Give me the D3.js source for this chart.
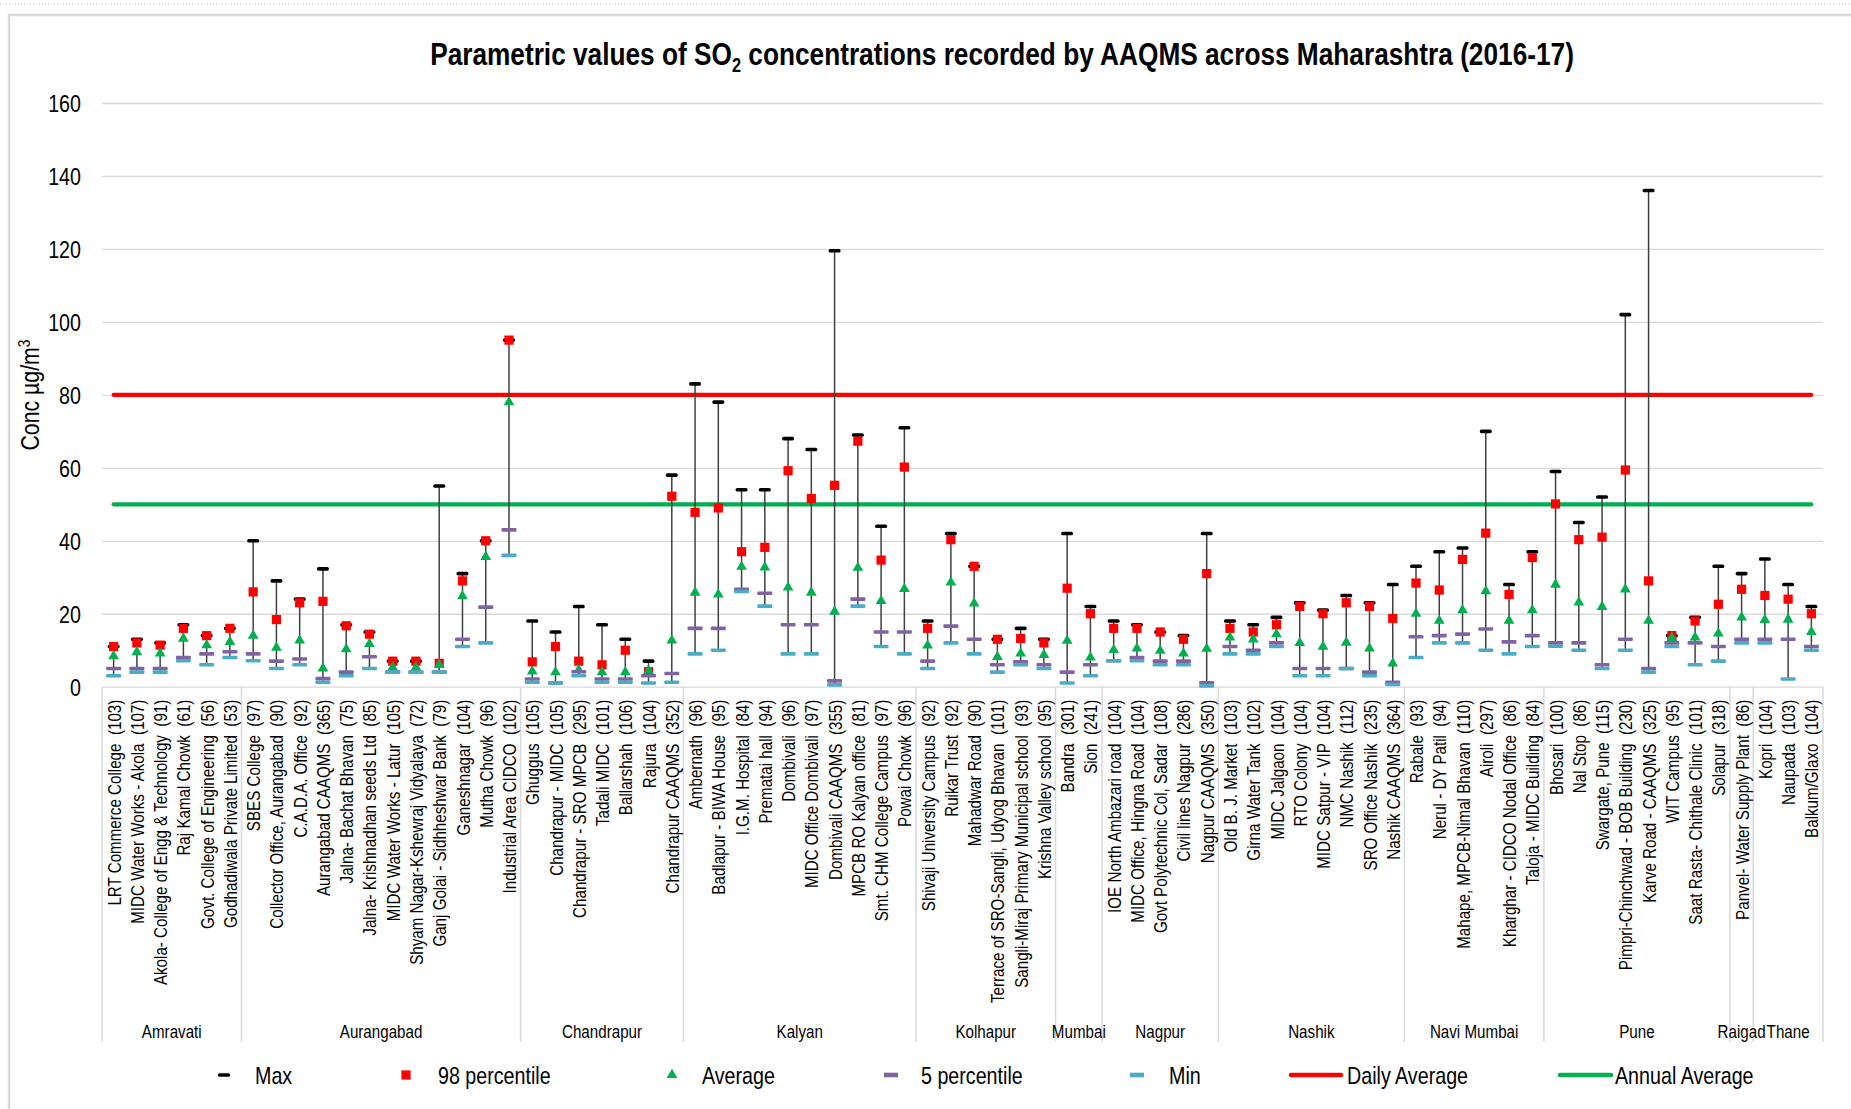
<!DOCTYPE html>
<html>
<head>
<meta charset="utf-8">
<script src="https://cdn.jsdelivr.net/npm/d3@7"></script>
<style>
body { margin: 0; background: #fff; }
text { white-space: pre; }
</style>
</head>
<body>
<div id="chart-area"></div>
<script>

// station names and number of samples, in plotting order
var stationNames = [
    "LRT Commerce College", "MIDC Water Works - Akola", "Akola- College of Engg & Technology",
    "Raj Kamal Chowk", "Govt. College of Engineering", "Godhadiwala Private Limited",
    "SBES College", "Collector Office, Aurangabad", "C.A.D.A. Office", "Aurangabad CAAQMS",
    "Jalna- Bachat Bhavan", "Jalna- Krishnadhan seeds Ltd", "MIDC Water Works - Latur",
    "Shyam Nagar-Kshewraj Vidyalaya", "Ganj Golai - Sidhheshwar Bank", "Ganeshnagar",
    "Mutha Chowk", "Industrial Area CIDCO",
    "Ghuggus", "Chandrapur - MIDC", "Chandrapur - SRO MPCB", "Tadali MIDC", "Ballarshah",
    "Rajura", "Chandrapur CAAQMS",
    "Ambernath", "Badlapur - BIWA House", "I.G.M. Hospital", "Prematai hall", "Dombivali",
    "MIDC Office Dombivali", "Dombivali CAAQMS", "MPCB RO Kalyan office",
    "Smt. CHM College Campus", "Powai Chowk",
    "Shivaji University Campus", "Ruikar Trust", "Mahadwar Road",
    "Terrace of SRO-Sangli, Udyog Bhavan", "Sangli-Miraj Primary Municipal school",
    "Krishna Valley school",
    "Bandra", "Sion",
    "IOE North Ambazari road", "MIDC Office, Hingna Road", "Govt Polytechnic Col, Sadar",
    "Civil lines Nagpur", "Nagpur CAAQMS",
    "Old B. J. Market", "Girna Water Tank", "MIDC Jalgaon", "RTO Colony", "MIDC Satpur - VIP",
    "NMC Nashik", "SRO Office Nashik", "Nashik CAAQMS",
    "Rabale", "Nerul - DY Patil", "Mahape, MPCB-Nimal Bhavan", "Airoli",
    "Kharghar - CIDCO Nodal Office", "Taloja - MIDC Building",
    "Bhosari", "Nal Stop", "Swargate, Pune", "Pimpri-Chinchwad - BOB Building",
    "Karve Road - CAAQMS", "WIT Campus", "Saat Rasta- Chithale Clinic", "Solapur",
    "Panvel- Water Supply Plant",
    "Kopri", "Naupada", "Balkum/Glaxo"
];
var sampleCounts = [103, 107, 91, 61, 56, 53,
    97, 90, 92, 365, 75, 85, 105, 72, 79, 104, 96, 102,
    105, 105, 295, 101, 106, 104, 352,
    96, 95, 84, 94, 96, 97, 355, 81, 97, 96,
    92, 92, 90, 101, 93, 95,
    301, 241,
    104, 104, 108, 286, 350,
    103, 102, 104, 104, 104, 112, 235, 364,
    93, 94, 110, 297, 86, 84,
    100, 86, 115, 230, 325, 95, 101, 318,
    86,
    104, 103, 104];

// regions and how many stations each one has
var regionNames = ["Amravati", "Aurangabad", "Chandrapur", "Kalyan", "Kolhapur", "Mumbai",
    "Nagpur", "Nashik", "Navi Mumbai", "Pune", "Raigad", "Thane"];
var regionSizes = [6, 12, 7, 10, 6, 2, 5, 8, 6, 8, 1, 3];

// SO2 values, µg/m3
var maxVals = [11, 13, 12, 17, 14, 16,
    40, 29, 24, 32.3, 17, 15, 7, 7, 55, 31, 40, 95,
    18, 15, 22, 17, 13, 7, 58,
    83, 78, 54, 54, 68, 65, 119.5, 69, 44, 71,
    18, 42, 33, 13, 16, 13,
    42, 22,
    18, 17, 15, 14, 42,
    18, 17, 19, 23, 21, 25, 23, 28,
    33, 37, 38, 70, 28, 37,
    59, 45, 52, 102, 136, 14, 19, 33,
    31,
    35, 28, 22];
var p98Vals = [11, 12, 11.4, 16, 14, 16,
    26, 18.4, 23, 23.4, 16.7, 14.4, 7, 7, 6.4, 29, 40, 95,
    6.8, 11, 7, 6, 10, 4.1, 52.2,
    47.8, 49, 37, 38.2, 59.2, 51.6, 55.2, 67.3, 34.7, 60.2,
    16, 40.3, 33, 13, 13.2, 12,
    27, 20,
    16, 16, 15, 13, 31,
    16, 15, 17, 22, 20, 23, 22, 18.7,
    28.4, 26.5, 34.9, 42.1, 25.3, 35.4,
    50.1, 40.3, 41, 59.4, 29, 14, 18, 22.6,
    26.7,
    25, 24, 20];
var avgVals = [8.4, 9.5, 9.1, 13.2, 11.4, 12.3,
    14, 10.7, 12.7, 5, 10.3, 11.7, 5.3, 5.3, 6, 24.8, 35.6, 78,
    4.2, 4, 4.6, 4, 4, 4.4, 12.7,
    25.8, 25.3, 32.9, 32.7, 27.2, 25.8, 20.6, 32.6, 23.5, 26.8,
    11.3, 28.6, 22.8, 8.2, 9.1, 8.7,
    12.6, 8,
    10.1, 10.5, 9.9, 9.1, 10.4,
    13.5, 13, 14.4, 12, 11, 12.1, 10.5, 6.4,
    20, 18.1, 21, 26.2, 18.1, 21,
    28, 23.1, 21.9, 26.7, 18.1, 13.4, 13.5, 14.6,
    19,
    18.3, 18.4, 15];
var p5Vals = [5, 5, 5, 8, 9, 9.6,
    9, 7, 7.6, 2.2, 4, 8.2, 4, 4, 4, 13, 21.8, 43,
    2.1, 1, 4.1, 2.1, 2.1, 3, 3.6,
    16, 16, 26.7, 25.6, 17, 17, 1.6, 24, 15, 15,
    7, 16.6, 13, 6, 6.8, 6,
    4, 6,
    7.1, 8, 7, 7, 1.1,
    11, 10, 12, 5, 5, 5, 4, 1.2,
    13.7, 14, 14.4, 15.8, 12.3, 14,
    12, 12, 6, 13, 5, 12, 12, 11,
    13,
    13, 13, 11];
var minVals = [3, 4, 4, 7.1, 6, 8,
    7.1, 5, 6, 1.2, 3, 5, 4, 4, 4, 11, 12, 36,
    1.2, 1, 3, 1.2, 1.2, 1, 1.2,
    9, 10, 26.1, 22.1, 9, 9, 0.5, 22.1, 11, 9,
    5, 12, 9, 4, 6, 5,
    1, 3,
    7.1, 7.1, 6, 6, 0.2,
    9, 9, 11, 3, 3, 5, 3, 0.6,
    8, 12, 12, 10, 9, 11,
    11.1, 10, 5, 10, 4, 11, 6, 7,
    12,
    12, 2.1, 10];

// standards
var dailyStandard = 80;
var annualStandard = 50;

var yTicks = [0, 20, 40, 60, 80, 100, 120, 140, 160];
var legendLabels = ["Max", "98 percentile", "Average", "5 percentile", "Min", "Daily Average", "Annual Average"];


// use the narrow face if it is there, otherwise squeeze the regular one
function hasFont(name) {
    var ctx = document.createElement("canvas").getContext("2d");
    ctx.font = "40px monospace";
    var a = ctx.measureText("abcdefghijklmnopWQ").width;
    ctx.font = "40px '" + name + "', monospace";
    var b = ctx.measureText("abcdefghijklmnopWQ").width;
    return a !== b;
}
var NARROW = hasFont("Liberation Sans Narrow");
var FONT = NARROW ? "'Liberation Sans Narrow'" : "'Liberation Sans', Arial, sans-serif";
var SX = NARROW ? 1 : 0.82;

function addText(sel, x, y, rot, size) {
    return sel.append("text")
        .attr("transform", "translate(" + x + "," + y + ")" + (rot ? " rotate(" + rot + ")" : "") + " scale(" + SX + ",1)")
        .style("font-family", FONT)
        .style("font-size", size + "px")
        .attr("fill", "#000");
}


SO2Chart = function(_parentElement) {
    this.parentElement = _parentElement;
    this.initVis();
}

SO2Chart.prototype.initVis = function() {
    var vis = this;

    vis.margin = { top: 103, right: 28, bottom: 422.3, left: 102 };
    vis.width = 1851 - vis.margin.left - vis.margin.right;
    vis.height = 1109 - vis.margin.top - vis.margin.bottom;

    vis.root = d3.select("#" + vis.parentElement).append("svg")
        .attr("width", 1851)
        .attr("height", 1109);

    vis.root.append("rect").attr("width", 1851).attr("height", 1109).attr("fill", "#fff");

    // dotted rule at the very top and the chart frame
    vis.root.append("line")
        .attr("x1", 0).attr("x2", 1851).attr("y1", 4).attr("y2", 4)
        .attr("stroke", "#c8c8c8").attr("stroke-dasharray", "1,2");
    vis.root.append("rect")
        .attr("x", 9).attr("y", 15).attr("width", 1900).attr("height", 1200)
        .attr("fill", "none").attr("stroke", "#d9d9d9").attr("stroke-width", 2.5);

    // title
    var title = addText(vis.root, 1002, 65, 0, 32)
        .attr("text-anchor", "middle")
        .style("font-weight", "bold");
    title.append("tspan").text("Parametric values of SO");
    title.append("tspan").attr("dy", 7).style("font-size", "20px").text("2");
    title.append("tspan").attr("dy", -7).text(" concentrations recorded by AAQMS across Maharashtra (2016-17)");

    // y axis title
    var ytitle = addText(vis.root, 30, 395, -90, 26)
        .attr("text-anchor", "middle")
        .attr("dy", "0.35em");
    ytitle.append("tspan").text("Conc µg/m");
    ytitle.append("tspan").attr("dy", -9).style("font-size", "17px").text("3");

    vis.svg = vis.root.append("g")
        .attr("transform", "translate(" + vis.margin.left + "," + vis.margin.top + ")");

    vis.x = d3.scaleBand()
        .domain(d3.range(stationNames.length))
        .range([0, vis.width]);

    vis.y = d3.scaleLinear()
        .domain([0, 160])
        .range([vis.height, 0]);

    // gridlines + tick labels
    vis.yAxis = d3.axisLeft(vis.y)
        .tickValues(yTicks)
        .tickSize(-vis.width)
        .tickFormat(d3.format("d"));

    var yg = vis.svg.append("g").attr("class", "y-axis").call(vis.yAxis);
    yg.select(".domain").remove();
    yg.selectAll(".tick line").attr("stroke", "#d9d9d9").attr("stroke-width", 1.3);
    yg.selectAll(".tick text")
        .attr("x", null)
        .attr("dy", "0.35em")
        .attr("transform", "translate(-21,0) scale(" + SX + ",1)")
        .style("font-family", FONT)
        .style("font-size", "24px")
        .attr("fill", "#000");

    vis.drawCategoryAxis();
    vis.drawStandards();
    vis.drawMarkers();
    vis.drawLegend();
}

SO2Chart.prototype.drawCategoryAxis = function() {
    var vis = this;
    var bw = vis.x.bandwidth();
    var boxDepth = 355;

    var xg = vis.svg.append("g").attr("class", "x-axis");

    // region separators
    var starts = [0];
    regionSizes.forEach(function(n, i) { starts.push(starts[i] + n); });

    starts.forEach(function(s) {
        var xpos = s < stationNames.length ? vis.x(s) : vis.width;
        xg.append("line")
            .attr("x1", xpos).attr("x2", xpos)
            .attr("y1", vis.height).attr("y2", vis.height + boxDepth)
            .attr("stroke", "#d9d9d9").attr("stroke-width", 1.5);
    });

    // station labels
    stationNames.forEach(function(name, i) {
        addText(xg, vis.x(i) + bw / 2, vis.height + 13, -90, 18.5)
            .attr("text-anchor", "end")
            .attr("dy", "0.38em")
            .text(name + "  (" + sampleCounts[i] + ")");
    });

    // region labels
    regionNames.forEach(function(r, i) {
        var x0 = vis.x(starts[i]);
        var x1 = starts[i + 1] < stationNames.length ? vis.x(starts[i + 1]) : vis.width;
        addText(xg, (x0 + x1) / 2, vis.height + 351, 0, 18.5)
            .attr("text-anchor", "middle")
            .text(r);
    });
}

SO2Chart.prototype.drawStandards = function() {
    var vis = this;
    var bw = vis.x.bandwidth();
    var idx = d3.range(stationNames.length);

    var line = d3.line()
        .x(function(d) { return vis.x(d.i) + bw / 2; })
        .y(function(d) { return vis.y(d.v); });

    vis.svg.append("path")
        .datum(idx.map(function(i) { return { i: i, v: dailyStandard }; }))
        .attr("d", line)
        .attr("fill", "none").attr("stroke", "#ff0000")
        .attr("stroke-width", 4.2).attr("stroke-linecap", "round");

    vis.svg.append("path")
        .datum(idx.map(function(i) { return { i: i, v: annualStandard }; }))
        .attr("d", line)
        .attr("fill", "none").attr("stroke", "#00b050")
        .attr("stroke-width", 4.2).attr("stroke-linecap", "round");
}

SO2Chart.prototype.drawMarkers = function() {
    var vis = this;
    var bw = vis.x.bandwidth();

    var rows = stationNames.map(function(n, i) {
        return { i: i, max: maxVals[i], p98: p98Vals[i], avg: avgVals[i], p5: p5Vals[i], min: minVals[i] };
    });

    var st = vis.svg.selectAll(".station")
        .data(rows)
        .enter().append("g")
        .attr("class", "station")
        .attr("transform", function(d) { return "translate(" + (vis.x(d.i) + bw / 2) + ",0)"; });

    // whisker from max down to min
    st.append("line")
        .attr("y1", function(d) { return vis.y(d.max); })
        .attr("y2", function(d) { return vis.y(d.min); })
        .attr("stroke", "#404040").attr("stroke-width", 1.5);

    st.append("rect")
        .attr("x", -6).attr("width", 12).attr("height", 3.6).attr("rx", 1.6)
        .attr("y", function(d) { return vis.y(d.max) - 1.8; })
        .attr("fill", "#000");

    st.append("rect")
        .attr("x", -4.6).attr("width", 9.2).attr("height", 9.2)
        .attr("y", function(d) { return vis.y(d.p98) - 4.6; })
        .attr("fill", "#ff0000");

    st.append("path")
        .attr("d", d3.symbol(d3.symbolTriangle, 50))
        .attr("transform", function(d) { return "translate(0," + vis.y(d.avg) + ")"; })
        .attr("fill", "#00b050");

    st.append("rect")
        .attr("x", -7.5).attr("width", 15).attr("height", 3.6).attr("rx", 1)
        .attr("y", function(d) { return vis.y(d.p5) - 1.8; })
        .attr("fill", "#8064a2");

    st.append("rect")
        .attr("x", -7.5).attr("width", 15).attr("height", 3.6).attr("rx", 1)
        .attr("y", function(d) { return vis.y(d.min) - 1.8; })
        .attr("fill", "#4bacc6");
}

SO2Chart.prototype.drawLegend = function() {
    var vis = this;
    var lg = vis.root.append("g").attr("class", "legend");
    var cy = 1075;

    var markX = [224, 406, 672, 891, 1137];
    var textX = [255, 438, 702, 921, 1169, 1347, 1615];

    lg.append("rect").attr("x", markX[0] - 6).attr("y", cy - 1.8).attr("width", 12).attr("height", 3.6).attr("rx", 1.6).attr("fill", "#000");
    lg.append("rect").attr("x", markX[1] - 4.6).attr("y", cy - 4.6).attr("width", 9.2).attr("height", 9.2).attr("fill", "#ff0000");
    lg.append("path").attr("d", d3.symbol(d3.symbolTriangle, 50)).attr("transform", "translate(" + markX[2] + "," + cy + ")").attr("fill", "#00b050");
    lg.append("rect").attr("x", markX[3] - 7).attr("y", cy - 2.3).attr("width", 14).attr("height", 4.6).attr("fill", "#8064a2");
    lg.append("rect").attr("x", markX[4] - 7).attr("y", cy - 2.3).attr("width", 14).attr("height", 4.6).attr("fill", "#4bacc6");

    lg.append("line").attr("x1", 1291).attr("x2", 1341).attr("y1", cy).attr("y2", cy)
        .attr("stroke", "#ff0000").attr("stroke-width", 4.5).attr("stroke-linecap", "round");
    lg.append("line").attr("x1", 1560).attr("x2", 1611).attr("y1", cy).attr("y2", cy)
        .attr("stroke", "#00b050").attr("stroke-width", 4.5).attr("stroke-linecap", "round");

    legendLabels.forEach(function(l, i) {
        addText(lg, textX[i], cy + 8.5, 0, 24).text(l);
    });
}

var chart = new SO2Chart("chart-area");

</script>
</body>
</html>
